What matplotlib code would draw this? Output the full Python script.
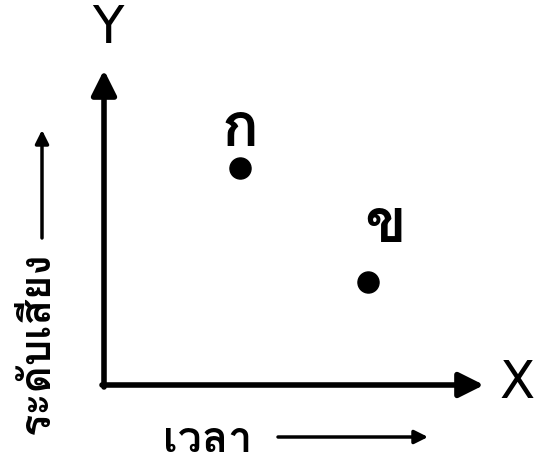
import matplotlib
matplotlib.use("Agg")
import matplotlib.pyplot as plt
from matplotlib import font_manager
from matplotlib.ft2font import FT2Font

# points on the sketch (pixel-like coordinates, y grows downward)
point_names = ["ก", "ข"]
point_x = [240, 368]
point_y = [168, 282]
x_axis_name = "X"
y_axis_name = "Y"
x_caption = "เวลา"
y_caption = "ระดับเสียง"

# pick a font that has Thai glyphs
thai_font = None
for f in font_manager.fontManager.ttflist:
    try:
        if 0x0E01 in FT2Font(f.fname).get_charmap():
            thai_font = f.name
            break
    except Exception:
        pass
families = [thai_font, "DejaVu Sans"] if thai_font else ["DejaVu Sans"]
plt.rcParams["font.family"] = families

fig = plt.figure(figsize=(5.38, 4.59), dpi=100)
ax = fig.add_axes([0, 0, 1, 1])
ax.set_xlim(0, 538)
ax.set_ylim(459, 0)
ax.axis("off")

ox, oy = 104, 385
arrow = dict(arrowstyle="-|>,head_length=1.5,head_width=0.75", lw=4, color="black",
             shrinkA=0, shrinkB=0)
ax.annotate("", xy=(ox, 70), xytext=(ox, oy + 2), arrowprops=arrow)
ax.annotate("", xy=(484, oy), xytext=(ox - 2, oy), arrowprops=arrow)
ax.text(108, 29, y_axis_name, fontsize=37, ha="center", va="center",
        family="DejaVu Sans")
ax.text(517, 384, x_axis_name, fontsize=37, ha="center", va="center",
        family="DejaVu Sans")

ax.scatter(point_x, point_y, s=230, color="black", zorder=3)
offsets = {"ก": (0, 22, "center"), "ข": (-4, 40, "left")}
for name, px, py in zip(point_names, point_x, point_y):
    dx, dy, ha = offsets[name]
    ax.text(px + dx, py - dy, name, fontsize=44, ha=ha, va="baseline", fontweight="bold")

small = dict(arrowstyle="-|>,head_length=0.8,head_width=0.4", lw=2.5, color="black",
             shrinkA=0, shrinkB=0)
ax.text(208, 440, x_caption, fontsize=31, ha="center", va="center", fontweight="bold")
ax.annotate("", xy=(428, 437), xytext=(278, 437), arrowprops=small)
ax.text(38, 343, y_caption, fontsize=30, ha="center", va="center", rotation=90,
        fontweight="bold")
ax.annotate("", xy=(42, 130), xytext=(42, 238), arrowprops=small)

fig.savefig("out.png", dpi=100)
